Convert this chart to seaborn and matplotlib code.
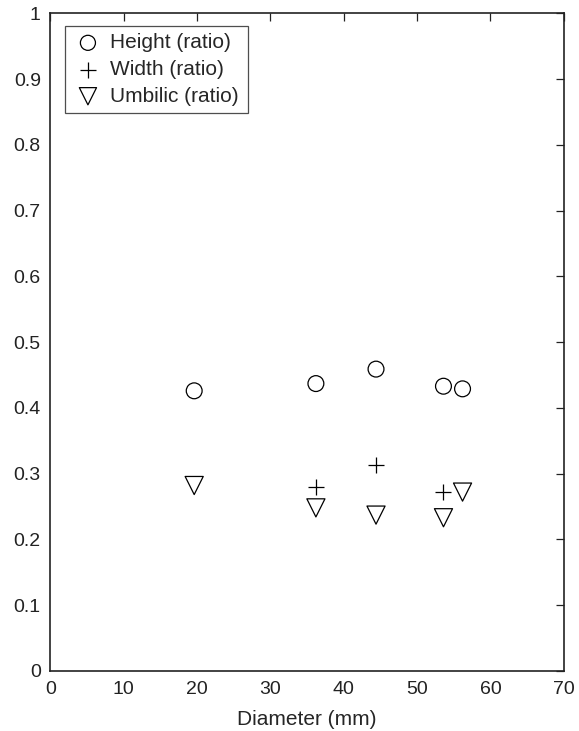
# Shell ratios vs diameter, MATLAB-style scatter

import pandas as pd
import seaborn as sns
import matplotlib.pyplot as plt

# Data
height_d = [19.6, 36.2, 44.4, 53.6, 56.2]
height_r = [0.426, 0.437, 0.459, 0.433, 0.429]

width_d = [36.2, 44.4, 53.6]
width_r = [0.280, 0.313, 0.272]

umbilic_d = [19.6, 36.2, 44.4, 53.6, 56.2]
umbilic_r = [0.282, 0.248, 0.237, 0.233, 0.272]

sns.set_style("white")
plt.rcParams['font.family'] = ['Liberation Sans', 'DejaVu Sans']

fig = plt.figure(figsize=(5.79, 7.31), dpi=100)
ax = fig.add_axes([0.0872, 0.0821, 0.8864, 0.8997])

height = pd.DataFrame({"d": height_d, "r": height_r})
width = pd.DataFrame({"d": width_d, "r": width_r})
umbilic = pd.DataFrame({"d": umbilic_d, "r": umbilic_r})

sns.scatterplot(data=height, x="d", y="r", marker="o", s=130, facecolors="none",
                edgecolor="black", linewidth=0.9, label="Height (ratio)", ax=ax)
sns.scatterplot(data=width, x="d", y="r", marker="+", s=140, color="black",
                linewidth=0.9, label="Width (ratio)", ax=ax)
sns.scatterplot(data=umbilic, x="d", y="r", marker="v", s=170, facecolors="none",
                edgecolor="black", linewidth=0.9, label="Umbilic (ratio)", ax=ax)

ax.set_xlim(0, 70)
ax.set_ylim(0, 1)
ax.set_xticks(range(0, 71, 10))
ax.set_yticks([i / 10 for i in range(11)])
ax.set_yticklabels(["0"] + [f"{i / 10:.1f}" for i in range(1, 10)] + ["1"])
ax.set_xlabel("Diameter (mm)", fontsize=15, labelpad=9)
ax.set_ylabel("")
ax.tick_params(direction="in", length=6, width=0.9, top=True, right=True,
               labelsize=14, colors="#222222", pad=7)
for sp in ax.spines.values():
    sp.set_color("#222222")
    sp.set_linewidth(1.2)

leg = ax.legend(loc="upper left", bbox_to_anchor=(0.0283, 0.0, 0.356, 0.9807),
                mode="expand", fontsize=15, frameon=True, fancybox=False,
                edgecolor="#222222", markerscale=0.95, handlelength=1.5,
                handletextpad=0.3, borderpad=0.35, labelspacing=0.37,
                borderaxespad=0)
leg.get_frame().set_linewidth(0.9)

fig.savefig("out.png", dpi=100)
